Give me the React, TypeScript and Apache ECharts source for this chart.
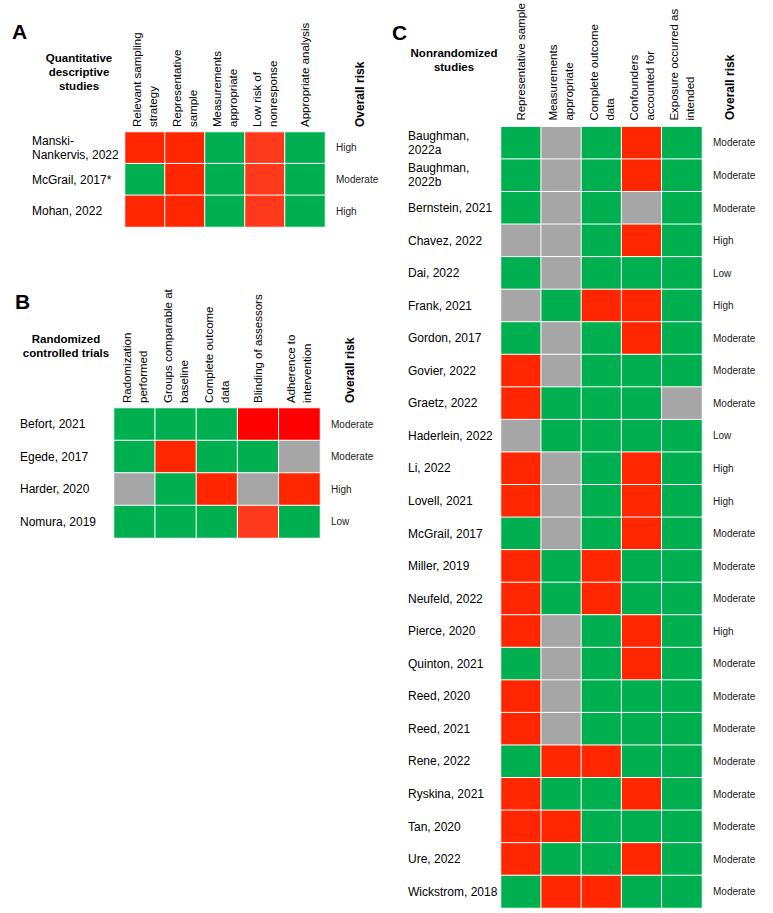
import React, { useEffect, useRef } from "react";
import * as echarts from "echarts";

// Score codes: 0 = low risk (green), 1 = high risk (red), 2 = unclear (gray), 3 = high (pure red), 4 = high (light red)
const aColumns = ["Relevant sampling\nstrategy", "Representative\nsample", "Measurements\nappropriate", "Low risk of\nnonresponse", "Appropriate analysis"];
const aStudies = ["Manski-\nNankervis, 2022", "McGrail, 2017*", "Mohan, 2022"];
const aScores = [
  [1, 1, 0, 4, 0],
  [0, 1, 0, 4, 0],
  [1, 1, 0, 4, 0],
];
const aOverall = ["High", "Moderate", "High"];

const bColumns = ["Radomization\nperformed", "Groups comparable at\nbaseline", "Complete outcome\ndata", "Blinding of assessors", "Adherence to\nintervention"];
const bStudies = ["Befort, 2021", "Egede, 2017", "Harder, 2020", "Nomura, 2019"];
const bScores = [
  [0, 0, 0, 3, 3],
  [0, 1, 0, 0, 2],
  [2, 0, 1, 2, 1],
  [0, 0, 0, 4, 0],
];
const bOverall = ["Moderate", "Moderate", "High", "Low"];

const cColumns = ["Representative sample", "Measurements\nappropriate", "Complete outcome\ndata", "Confounders\naccounted for", "Exposure occurred as\nintended"];
const cStudies = [
  "Baughman,\n2022a", "Baughman,\n2022b", "Bernstein, 2021", "Chavez, 2022", "Dai, 2022", "Frank, 2021",
  "Gordon, 2017", "Govier, 2022", "Graetz, 2022", "Haderlein, 2022", "Li, 2022", "Lovell, 2021",
  "McGrail, 2017", "Miller, 2019", "Neufeld, 2022", "Pierce, 2020", "Quinton, 2021", "Reed, 2020",
  "Reed, 2021", "Rene, 2022", "Ryskina, 2021", "Tan, 2020", "Ure, 2022", "Wickstrom, 2018",
];
const cScores = [
  [0, 2, 0, 1, 0],
  [0, 2, 0, 1, 0],
  [0, 2, 0, 2, 0],
  [2, 2, 0, 1, 0],
  [0, 2, 0, 0, 0],
  [2, 0, 1, 1, 0],
  [0, 2, 0, 1, 0],
  [1, 2, 0, 0, 0],
  [1, 0, 0, 0, 2],
  [2, 0, 0, 0, 0],
  [1, 2, 0, 1, 0],
  [1, 2, 0, 1, 0],
  [0, 2, 0, 1, 0],
  [1, 0, 1, 0, 0],
  [1, 0, 1, 0, 0],
  [1, 2, 0, 1, 0],
  [0, 2, 0, 1, 0],
  [1, 2, 0, 0, 0],
  [1, 2, 0, 0, 0],
  [0, 1, 1, 0, 0],
  [1, 0, 0, 1, 0],
  [1, 1, 0, 0, 0],
  [1, 0, 0, 1, 0],
  [0, 1, 1, 0, 0],
];
const cOverall = [
  "Moderate", "Moderate", "Moderate", "High", "Low", "High", "Moderate", "Moderate", "Moderate", "Low",
  "High", "High", "Moderate", "Moderate", "Moderate", "High", "Moderate", "Moderate", "Moderate", "Moderate",
  "Moderate", "Moderate", "Moderate", "Moderate",
];

const FONT = "Liberation Sans, Arial, sans-serif";

function toCells(scores: number[][]) {
  const out: number[][] = [];
  scores.forEach((row, i) => row.forEach((v, j) => out.push([j, i, v])));
  return out;
}

export default function App() {
  const ref = useRef<HTMLDivElement>(null);
  useEffect(() => {
    document.body.style.margin = "0";
    const chart = echarts.init(ref.current!, null, { renderer: "svg" });

    const panels = [
      { cols: aColumns, rows: aStudies, scores: aScores, overall: aOverall, grid: { left: 125, top: 132, width: 200, height: 95 }, rowMargin: 93, colMargin: 5 },
      { cols: bColumns, rows: bStudies, scores: bScores, overall: bOverall, grid: { left: 114, top: 408, width: 206, height: 130 }, rowMargin: 94, colMargin: 5 },
      { cols: cColumns, rows: cStudies, scores: cScores, overall: cOverall, grid: { left: 501, top: 126, width: 201, height: 782 }, rowMargin: 93, colMargin: 6 },
    ];

    const grids: any[] = [];
    const xAxes: any[] = [];
    const yAxes: any[] = [];
    const series: any[] = [];
    panels.forEach((p, k) => {
      grids.push({ ...p.grid, containLabel: false });
      xAxes.push({
        type: "category",
        gridIndex: k,
        position: "top",
        data: p.cols,
        axisLine: { show: false },
        axisTick: { show: false },
        splitLine: { show: false },
        axisLabel: { rotate: -90, interval: 0, margin: p.colMargin, fontSize: 11.5, lineHeight: 16, color: "#000", fontFamily: FONT },
      });
      yAxes.push({
        type: "category",
        gridIndex: k,
        inverse: true,
        data: p.rows,
        axisLine: { show: false },
        axisTick: { show: false },
        splitLine: { show: false },
        axisLabel: { interval: 0, align: "left", margin: p.rowMargin, fontSize: 12, lineHeight: 14, color: "#000", fontFamily: FONT },
      });
      yAxes.push({
        type: "category",
        gridIndex: k,
        inverse: true,
        position: "right",
        data: p.overall,
        axisLine: { show: false },
        axisTick: { show: false },
        splitLine: { show: false },
        axisLabel: { interval: 0, align: "left", margin: 11, fontSize: 10, color: "#222", fontFamily: FONT },
      });
      series.push({
        type: "heatmap",
        xAxisIndex: k,
        yAxisIndex: k * 2,
        data: toCells(p.scores),
        itemStyle: { borderColor: "#fff", borderWidth: 1 },
        emphasis: { disabled: true },
        silent: true,
      });
    });

    const txt = (x: number, y: number, text: string, size: number, align: string, extra: any = {}) => ({
      type: "text",
      x,
      y,
      ...extra,
      style: { text, fontSize: size, fontWeight: "bold", fontFamily: FONT, fill: "#000", align, verticalAlign: "middle", lineHeight: 14 },
    });

    chart.setOption({
      animation: false,
      grid: grids,
      xAxis: xAxes,
      yAxis: yAxes,
      visualMap: {
        type: "piecewise",
        show: false,
        seriesIndex: [0, 1, 2],
        dimension: 2,
        pieces: [
          { value: 0, color: "#00B050" },
          { value: 1, color: "#FF2600" },
          { value: 2, color: "#A6A6A6" },
          { value: 3, color: "#FF0000" },
          { value: 4, color: "#FF3A1C" },
        ],
      },
      series,
      graphic: [
        txt(12, 31, "A", 21, "left"),
        txt(15, 301, "B", 21, "left"),
        txt(392, 32, "C", 21, "left"),
        txt(79, 72, "Quantitative\ndescriptive\nstudies", 11.5, "center"),
        txt(66, 345.5, "Randomized\ncontrolled trials", 11.5, "center"),
        txt(454, 60, "Nonrandomized\nstudies", 11.5, "center"),
        txt(360, 127, "Overall risk", 12, "left", { rotation: Math.PI / 2 }),
        txt(350, 403, "Overall risk", 12, "left", { rotation: Math.PI / 2 }),
        txt(730, 120, "Overall risk", 12, "left", { rotation: Math.PI / 2 }),
      ],
    });
    return () => chart.dispose();
  }, []);
  return <div ref={ref} style={{ width: 773, height: 913 }} />;
}
